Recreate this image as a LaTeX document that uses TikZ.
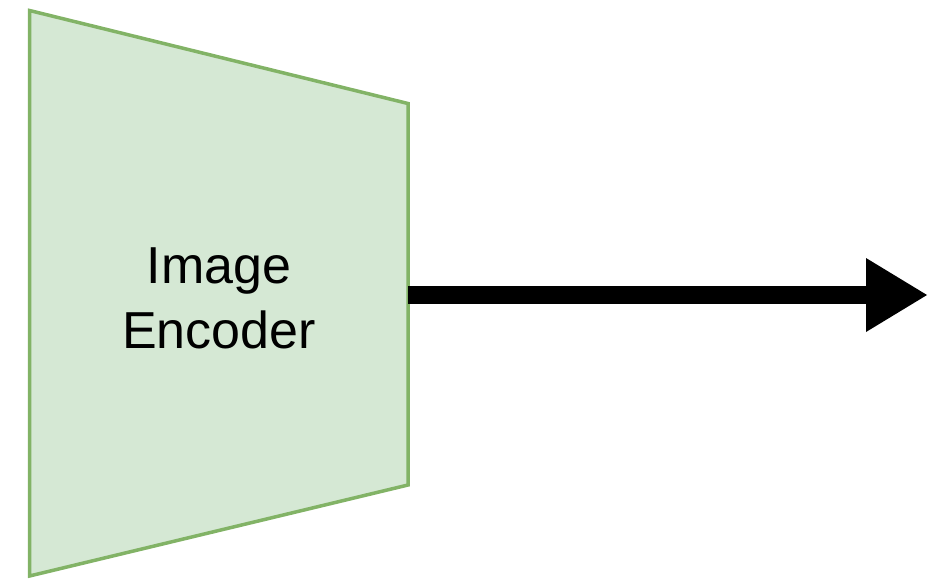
\documentclass[tikz,border=0pt]{standalone}
\usepackage{fontspec}
\setmainfont{Liberation Sans}
\usetikzlibrary{arrows.meta}
\definecolor{encfill}{HTML}{D5E8D4}
\definecolor{encline}{HTML}{82B366}
\tikzset{
  encoder/.style={fill=encfill, draw=encline, line width=3.5pt, line join=miter},
  enclabel/.style={anchor=base, inner sep=0pt, font=\fontsize{52}{62}\selectfont},
  flow/.style={line width=18pt, -{Triangle[length=61pt,width=74pt,line width=0pt]}}
}
\begin{document}
\begin{tikzpicture}[x=1pt,y=-1pt]
  \useasboundingbox (0,0) rectangle (929,579);
  % trapezoid outline of the encoder block
  \coordinate (tl) at (29.5,10.5);
  \coordinate (tr) at (408,103.5);
  \coordinate (br) at (408,485);
  \coordinate (bl) at (29.5,576);
  \coordinate (out) at (408,295);
  \coordinate (end) at (927,295);
  \draw[encoder] (tl) -- (tr) -- (br) -- (bl) -- cycle;
  \node[enclabel] (lineA) at (219,283) {Image};
  \node[enclabel] (lineB) at (219,348) {Encoder};
  % output connector
  \draw[flow] (out) -- (end);
\end{tikzpicture}
\end{document}
